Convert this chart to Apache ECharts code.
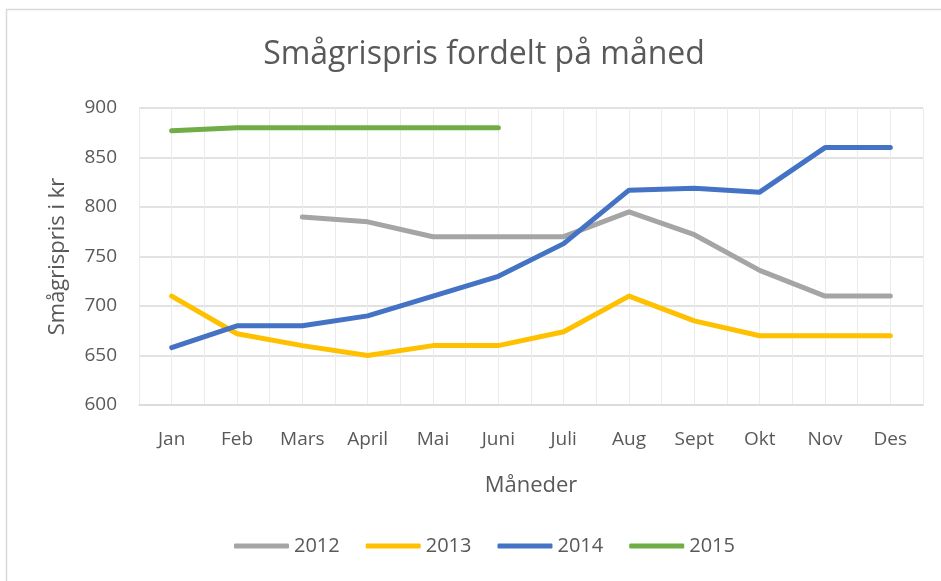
<!DOCTYPE html>
<html>
<head>
<meta charset="utf-8">
<script src="https://cdn.jsdelivr.net/npm/echarts@6/dist/echarts.min.js"></script>
<style>
  html, body { margin: 0; padding: 0; background: #fff; }
  #main { width: 941px; height: 581px; }
</style>
</head>
<body>
<div id="main"></div>
<script>
var months = ['Jan', 'Feb', 'Mars', 'April', 'Mai', 'Juni', 'Juli', 'Aug', 'Sept', 'Okt', 'Nov', 'Des'];
var years = ['2012', '2013', '2014', '2015'];
var yTicks = [600, 650, 700, 750, 800, 850, 900];

var data2012 = ['-', '-', 790, 785, 770, 770, 770, 795, 772, 736, 710, 710];
var data2013 = [710, 672, 660, 650, 660, 660, 674, 710, 685, 670, 670, 670];
var data2014 = [658, 680, 680, 690, 710, 730, 763, 817, 819, 815, 860, 860];
var data2015 = [877, 880, 880, 880, 880, 880];

var colors = ['#A5A5A5', '#FFC000', '#4472C4', '#70AD47'];
var textColor = '#595959';
var font = 'Open Sans';

var chart = echarts.init(document.getElementById('main'));

function lineSeries(name, data, color) {
    return {
        name: name,
        type: 'line',
        data: data,
        symbol: 'none',
        lineStyle: { color: color, width: 5, cap: 'round', join: 'round' },
        itemStyle: { color: color },
        emphasis: { disabled: true }
    };
}

var option = {
    animation: false,
    textStyle: { fontFamily: font },
    title: {
        text: 'Smågrispris fordelt på måned',
        left: 479,
        top: 34,
        textAlign: 'center',
        textStyle: { fontFamily: font, fontSize: 32, fontWeight: 'normal', color: textColor }
    },
    graphic: [{
        type: 'rect',
        shape: { x: 6.5, y: 9.5, width: 1200, height: 1000 },
        style: { fill: 'none', stroke: '#d9d9d9', lineWidth: 1.5 },
        silent: true
    }],
    grid: { left: 139, right: 18, top: 108, bottom: 176 },
    legend: {
        left: 234,
        top: 536,
        padding: 0,
        icon: 'roundRect',
        itemWidth: 55,
        itemHeight: 5,
        itemGap: 26,
        textStyle: { fontFamily: font, fontSize: 20, color: textColor },
        data: years
    },
    xAxis: [{
        type: 'category',
        data: months,
        boundaryGap: true,
        axisLine: { lineStyle: { color: '#d9d9d9', width: 1.5 } },
        axisTick: { show: false },
        axisLabel: { color: textColor, fontSize: 19, fontFamily: font, margin: 25 },
        splitLine: { show: false },
        name: 'Måneder',
        nameLocation: 'middle',
        nameGap: 70,
        nameTextStyle: { color: textColor, fontSize: 22, fontFamily: font }
    }, {
        // light vertical grid every half month
        type: 'value',
        min: 0,
        max: months.length * 2,
        interval: 1,
        position: 'bottom',
        axisLine: { show: false },
        axisTick: { show: false },
        axisLabel: { show: false },
        splitLine: { show: true, lineStyle: { color: '#ebebeb', width: 1 } }
    }],
    yAxis: {
        type: 'value',
        min: yTicks[0],
        max: yTicks[yTicks.length - 1],
        interval: yTicks[1] - yTicks[0],
        axisLine: { show: false },
        axisTick: { show: false },
        axisLabel: { color: textColor, fontSize: 19, fontFamily: font, margin: 22 },
        splitLine: { show: true, lineStyle: { color: '#d9d9d9', width: 1.5 } },
        name: 'Smågrispris i kr',
        nameLocation: 'middle',
        nameGap: 70,
        nameTextStyle: { color: textColor, fontSize: 22, fontFamily: font }
    },
    series: [
        lineSeries(years[0], data2012, colors[0]),
        lineSeries(years[1], data2013, colors[1]),
        lineSeries(years[2], data2014, colors[2]),
        lineSeries(years[3], data2015, colors[3])
    ]
};

chart.setOption(option);
</script>
</body>
</html>
